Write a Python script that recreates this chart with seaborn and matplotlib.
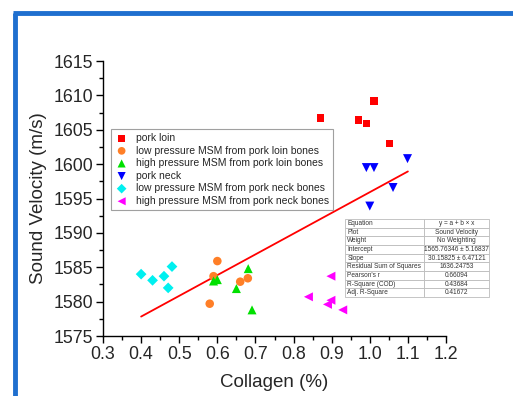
import matplotlib
matplotlib.use("Agg")
import matplotlib.pyplot as plt
import seaborn as sns
import numpy as np
import pandas as pd
from matplotlib.lines import Line2D
from matplotlib.ticker import MultipleLocator

# ---- data ----
groups = ["pork loin",
          "low pressure MSM from pork loin bones",
          "high pressure MSM from pork loin bones",
          "pork neck",
          "low pressure MSM from pork neck bones",
          "high pressure MSM from pork neck bones"]

loin_x = [0.871, 1.011, 0.970, 0.991, 1.051]
loin_y = [1606.7, 1609.2, 1606.4, 1605.9, 1603.0]

lp_loin_x = [0.600, 0.590, 0.660, 0.680, 0.580]
lp_loin_y = [1585.9, 1583.7, 1582.9, 1583.4, 1579.7]

hp_loin_x = [0.681, 0.590, 0.600, 0.650, 0.691]
hp_loin_y = [1584.8, 1583.0, 1583.2, 1581.9, 1578.8]

neck_x = [0.991, 1.011, 1.099, 1.061, 1.000]
neck_y = [1599.5, 1599.5, 1600.8, 1596.6, 1593.9]

lp_neck_x = [0.400, 0.430, 0.460, 0.481, 0.471]
lp_neck_y = [1584.0, 1583.1, 1583.7, 1585.1, 1582.0]

hp_neck_x = [0.898, 0.839, 0.898, 0.889, 0.929]
hp_neck_y = [1583.7, 1580.7, 1580.2, 1579.6, 1578.8]

fit_intercept = 1565.76346
fit_slope = 30.15825
fit_x = [0.4, 1.1]

table_rows = ["Equation", "Plot", "Weight", "Intercept", "Slope",
              "Residual Sum of Squares", "Pearson's r", "R-Square (COD)",
              "Adj. R-Square"]
table_vals = ["y = a + b \u00d7 x", "Sound Velocity", "No Weighting",
              "1565.76346 \u00b1 5.16837", "30.15825 \u00b1 6.47121",
              "1636.24753", "0.66094", "0.43684", "0.41672"]

xs = [loin_x, lp_loin_x, hp_loin_x, neck_x, lp_neck_x, hp_neck_x]
ys = [loin_y, lp_loin_y, hp_loin_y, neck_y, lp_neck_y, hp_neck_y]
df = pd.DataFrame({
    "x": np.concatenate(xs),
    "y": np.concatenate(ys),
    "group": np.repeat(groups, [len(a) for a in xs]),
})

# ---- style ----
sns.set_style("ticks")
plt.rcParams["font.family"] = ["Liberation Sans", "DejaVu Sans"]

colors = ["#ff0000", "#ff7f27", "#00e000", "#0000ff", "#00f0f0", "#ff00ff"]
markers = ["s", "o", "^", "v", "D", "<"]
sizes = [28, 38, 42, 42, 30, 42]

fig = plt.figure(figsize=(5.13, 3.96), dpi=100)
ax = fig.add_axes([0.2008, 0.1515, 0.6686, 0.6944])

for g, c, m, s in zip(groups, colors, markers, sizes):
    sub = df[df["group"] == g]
    sns.scatterplot(data=sub, x="x", y="y", color=c, marker=m, s=s,
                    edgecolor="none", linewidth=0, ax=ax, label=g, zorder=3)

fx = np.array(fit_x)
sns.lineplot(x=fx, y=fit_intercept + fit_slope * fx, color="#ff0000",
             linewidth=1.3, ax=ax, legend=False, zorder=2)

ax.set_xlim(0.3, 1.2)
ax.set_ylim(1575, 1615)
ax.xaxis.set_major_locator(MultipleLocator(0.1))
ax.xaxis.set_minor_locator(MultipleLocator(0.05))
ax.yaxis.set_major_locator(MultipleLocator(5))
ax.yaxis.set_minor_locator(MultipleLocator(2.5))
ax.set_xticks(np.round(np.arange(0.3, 1.21, 0.1), 1))
ax.set_xticklabels([f"{v:.1f}" for v in np.arange(0.3, 1.21, 0.1)])
ax.tick_params(which="major", direction="out", length=5, width=1,
               labelsize=12.8, color="black", pad=2)
ax.tick_params(which="minor", direction="out", length=3, width=1, color="black")
for sp in ["left", "bottom"]:
    ax.spines[sp].set_linewidth(1)
    ax.spines[sp].set_color("black")
sns.despine(ax=ax)

ax.set_xlabel("Collagen (%)", fontsize=13.5, labelpad=8)
ax.set_ylabel("Sound Velocity (m/s)", fontsize=13.5, labelpad=5)

leg = ax.legend(loc="upper left", bbox_to_anchor=(0.0224, 0.7516),
                borderaxespad=0, fontsize=7.5, frameon=True, fancybox=False,
                edgecolor="#888888", handletextpad=0.7, labelspacing=0.25,
                borderpad=0.35, handlelength=1.4, markerscale=0.9)
leg.get_frame().set_linewidth(0.8)

tbl = ax.table(cellText=[[a, b] for a, b in zip(table_rows, table_vals)],
               colWidths=[0.549, 0.451], bbox=[0.7055, 0.1418, 0.42, 0.2836],
               cellLoc="left", zorder=5)
tbl.auto_set_font_size(False)
tbl.set_fontsize(4.7)
for (r, c), cell in tbl.get_celld().items():
    cell.set_edgecolor("#bbbbbb")
    cell.set_linewidth(0.6)
    cell.get_text().set_color("#333333")
    cell.set_clip_on(False)
    if c == 1:
        cell.get_text().set_horizontalalignment("center")
        cell._loc = "center"
    else:
        cell.PAD = 0.03

# blue frame (top and left edges visible)
fig.add_artist(Line2D([14.5 / 513, 14.5 / 513], [0, 1 - 13 / 396],
                      transform=fig.transFigure, color="#1f6fcf", linewidth=3.5,
                      solid_capstyle="butt"))
fig.add_artist(Line2D([12.8 / 513, 1], [1 - 13 / 396, 1 - 13 / 396],
                      transform=fig.transFigure, color="#1f6fcf", linewidth=3.5,
                      solid_capstyle="butt"))

fig.savefig("out.png", dpi=100)
